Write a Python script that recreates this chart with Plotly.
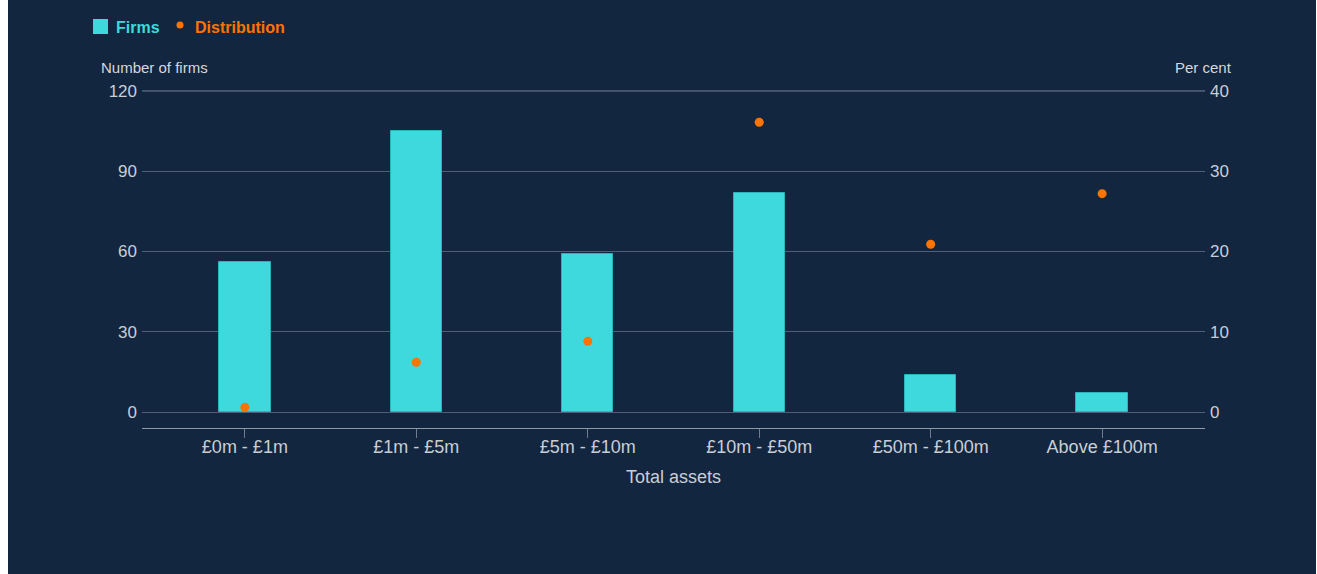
import plotly.graph_objects as go

categories = ["£0m - £1m", "£1m - £5m", "£5m - £10m", "£10m - £50m", "£50m - £100m", "Above £100m"]
firms = [56, 105, 59, 82, 14, 7]
distribution = [0.6, 6.2, 8.8, 36.1, 20.9, 27.2]

BG = "#13263f"
CYAN = "#3dd9dc"
ORANGE = "#ff7400"
TXT = "#c9ced6"
GRID = "#4f5f76"
FONT = "Liberation Sans, Arial, sans-serif"

fig = go.Figure()
fig.add_trace(go.Bar(
    x=list(range(len(categories))), y=firms, name="Firms",
    marker=dict(color=CYAN, line=dict(color="#2ab3bb", width=1)),
    width=0.3, yaxis="y", showlegend=False,
))
fig.add_trace(go.Scatter(
    x=list(range(len(categories))), y=distribution, name="Distribution",
    mode="markers", marker=dict(color=ORANGE, size=9),
    yaxis="y2", showlegend=False,
))

L, R, T, B = 142, 112, 90, 146
W, H = 1317, 574
pw, ph = W - L - R, H - T - B


def px(xp):
    return (xp - L) / pw


def py(yp):
    return (T + ph - yp) / ph


# page frame: white strips at left/right, dark panel
fig.add_shape(type="rect", xref="paper", yref="paper",
              x0=px(8), x1=px(1316), y0=py(H + 2), y1=py(-2),
              fillcolor=BG, line=dict(width=0), layer="below")

# top gridline (120)
fig.add_shape(type="line", xref="paper", yref="y", x0=0, x1=1, y0=120, y1=120,
              line=dict(color="#76839a", width=1), layer="below")

# manual legend
fig.add_shape(type="rect", xref="paper", yref="paper",
              x0=px(93), x1=px(108), y0=py(34), y1=py(19),
              fillcolor=CYAN, line=dict(width=0))
fig.add_shape(type="circle", xref="paper", yref="paper",
              x0=px(176.5), x1=px(183.5), y0=py(28.5), y1=py(21.5),
              fillcolor=ORANGE, line=dict(width=0))
fig.add_annotation(text="<b>Firms</b>", xref="paper", yref="paper",
                   x=px(114), y=py(27), xanchor="left", yanchor="middle",
                   showarrow=False, font=dict(size=16, color=CYAN, family=FONT))
fig.add_annotation(text="<b>Distribution</b>", xref="paper", yref="paper",
                   x=px(193), y=py(27), xanchor="left", yanchor="middle",
                   showarrow=False, font=dict(size=16, color=ORANGE, family=FONT))

fig.update_layout(
    width=W, height=H,
    margin=dict(l=L, r=R, t=T, b=B),
    paper_bgcolor="white", plot_bgcolor=BG,
    font=dict(family=FONT, color=TXT, size=17),
    showlegend=False,
    xaxis=dict(
        range=[-0.6, 5.6], tickmode="array", tickvals=list(range(len(categories))),
        ticktext=categories, showgrid=False, zeroline=False,
        showline=True, linecolor="#8e98a6", linewidth=1,
        ticks="outside", ticklen=9, tickcolor="#6f7b8c",
        tickfont=dict(size=18, color=TXT), ticklabelstandoff=-7,
        title=dict(text="Total assets", font=dict(size=18, color=TXT), standoff=14),
    ),
    yaxis=dict(
        range=[-5.98, 120.35], tickvals=[0, 30, 60, 90, 120], showgrid=True,
        gridcolor=GRID, gridwidth=1, zeroline=False, showline=False,
        tickfont=dict(size=17, color=TXT), ticks="", ticklabelstandoff=4,
    ),
    yaxis2=dict(
        range=[-1.994, 40.117], tickvals=[0, 10, 20, 30, 40], overlaying="y",
        side="right", showgrid=False, zeroline=False, showline=False,
        tickfont=dict(size=17, color=TXT), ticklabelstandoff=4,
    ),
    bargap=0,
)

fig.add_annotation(text="Number of firms", xref="paper", yref="paper",
                   x=px(99), y=py(68), xanchor="left", yanchor="middle",
                   showarrow=False, font=dict(size=15, color="#d4d8de", family=FONT))
fig.add_annotation(text="Per cent", xref="paper", yref="paper",
                   x=px(1234), y=py(68), xanchor="right", yanchor="middle",
                   showarrow=False, font=dict(size=15, color="#d4d8de", family=FONT))

fig.write_html("out.html", config={"displayModeBar": False},
               post_script="document.body.style.margin='0';document.body.style.overflow='hidden';")
